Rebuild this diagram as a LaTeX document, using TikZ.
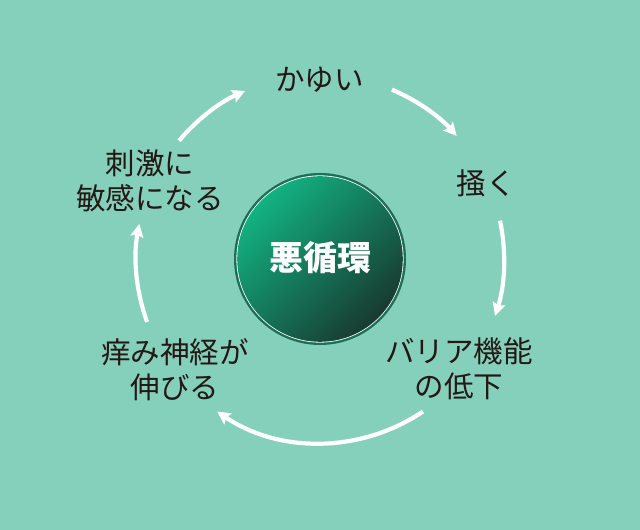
\documentclass[tikz,border=0pt]{standalone}
\usepackage{fontspec}
\newfontfamily\cjk{Noto Sans CJK JP}
\usetikzlibrary{arrows.meta,calc}
\definecolor{bg}{RGB}{133,208,187}
\definecolor{ink}{RGB}{35,24,21}
\definecolor{ringc}{RGB}{28,110,84}
\definecolor{gtop}{RGB}{18,178,130}
\definecolor{gmid}{RGB}{16,96,74}
\definecolor{gbot}{RGB}{24,58,48}
\tikzset{
  lbl/.style={text=ink,align=center,font=\cjk\fontsize{29.5bp}{35bp}\selectfont,inner sep=0pt},
  arr/.style={draw=white,line width=4.2bp,-{Stealth[length=13bp,width=13bp,inset=2bp]}},
}
\begin{document}
\begin{tikzpicture}[x=1bp,y=1bp]
\fill[bg] (0,0) rectangle (640,530);
\useasboundingbox (0,0) rectangle (640,530);
\coordinate (C) at (320,271);
% central circle
\fill[ringc] (C) circle[radius=86];
\fill[white] (C) circle[radius=83.6];
\shade[top color=gtop,middle color=gmid,bottom color=gbot,shading angle=45] (C) circle[radius=82.8];
\node[font=\cjk\bfseries\fontsize{34bp}{40bp}\selectfont,text=white,inner sep=0pt] (center) at (320,272) {悪循環};
% labels
\node[lbl] (kayui) at (319.5,450) {かゆい};
\node[lbl] (kaku) at (486,347) {掻く};
\node[lbl] (barrier) at (459,161) {バリア機能\\の低下};
\node[lbl] (nerve) at (175,160.5) {痒み神経が\\伸びる};
\node[lbl] (sens) at (150,349.5) {刺激に\\敏感になる};
% arrows
\coordinate (s1) at ($(C)+(67:184)$);
\coordinate (s2) at ($(C)+(12:184)$);
\coordinate (s3) at ($(C)+(-56:184)$);
\coordinate (s4) at ($(C)+(200:184)$);
\coordinate (s5) at ($(C)+(140:184)$);
\draw[arr] (s1) arc[start angle=67,end angle=42,radius=184];
\draw[arr] (s2) arc[start angle=12,end angle=-18,radius=184];
\draw[arr] (s3) arc[start angle=-56,end angle=-124,radius=184];
\draw[arr] (s4) arc[start angle=200,end angle=169,radius=184];
\draw[arr] (s5) arc[start angle=140,end angle=114,radius=184];
\end{tikzpicture}
\end{document}
